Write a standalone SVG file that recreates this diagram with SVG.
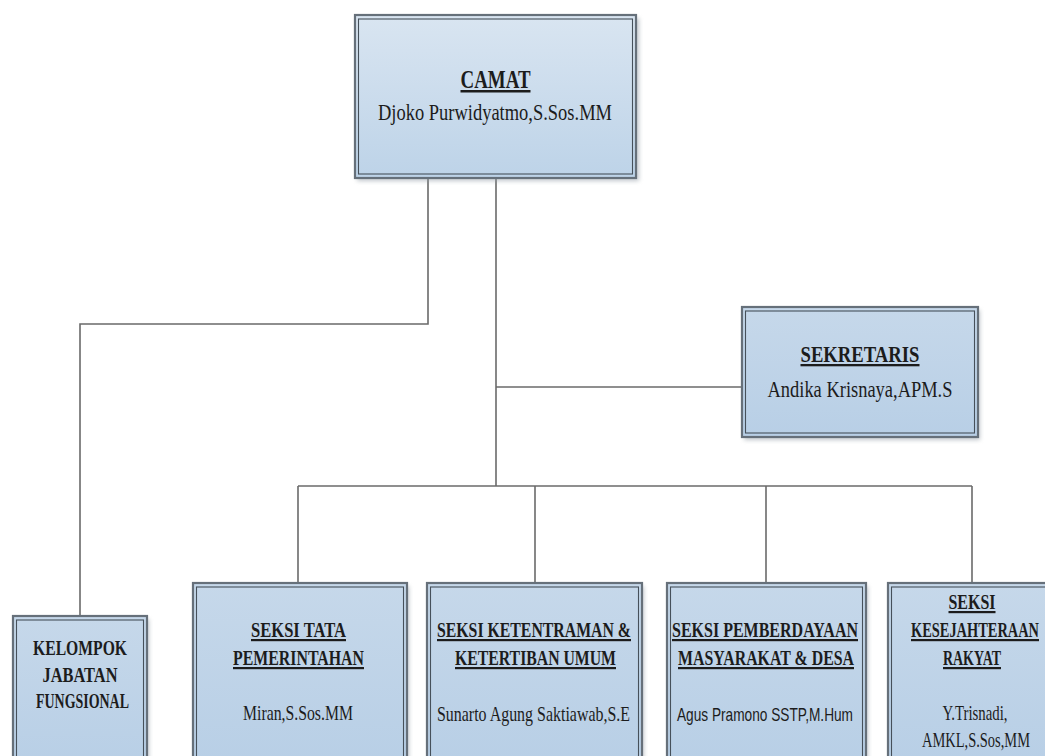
<svg xmlns="http://www.w3.org/2000/svg" width="1045" height="756" viewBox="0 0 1045 756">
<defs>
<linearGradient id="g" x1="0" y1="0" x2="0" y2="1">
<stop offset="0" stop-color="#d9e5f1"/>
<stop offset="1" stop-color="#bdd3e8"/>
</linearGradient>
<linearGradient id="g2" x1="0" y1="0" x2="0" y2="1">
<stop offset="0" stop-color="#c6d8ea"/>
<stop offset="1" stop-color="#b8cfe6"/>
</linearGradient>
<filter id="sh" x="-10%" y="-10%" width="130%" height="130%">
<feGaussianBlur stdDeviation="2"/>
</filter>
</defs>
<style>
.out{stroke:#66707a;stroke-width:2.2}
.in{fill:none;stroke:#46505a;stroke-width:1.1}
.shd{fill:#8f99a3;opacity:0.55;filter:url(#sh)}
.con{fill:none;stroke:#6a6a6a;stroke-width:1.6}
text{font-family:"Liberation Serif","Times New Roman",serif;fill:#1c1c1c;text-anchor:middle}
.b{font-weight:bold}
.u{text-decoration:underline}
.sans{font-family:"Liberation Sans",Arial,sans-serif}
</style>
<rect width="1045" height="756" fill="#ffffff"/>

<g id="connectors">
<polyline class="con" points="428,178 428,324 80,324 80,616"/>
<polyline class="con" points="496,178 496,486"/>
<polyline class="con" points="496,387 742,387"/>
<polyline class="con" points="298,486 972,486"/>
<polyline class="con" points="298,486 298,583"/>
<polyline class="con" points="535,486 535,583"/>
<polyline class="con" points="766,486 766,583"/>
<polyline class="con" points="972,486 972,583"/>
</g>

<g id="camat">
<rect class="shd" x="357" y="18" width="282" height="163"/>
<rect class="out" x="355" y="15" width="281" height="163" fill="url(#g)"/>
<rect class="in" x="358.5" y="19" width="274" height="155"/>
<text class="b u" x="495.5" y="88" font-size="25" textLength="70" lengthAdjust="spacingAndGlyphs">CAMAT</text>
<text x="495" y="120" font-size="23" textLength="234" lengthAdjust="spacingAndGlyphs">Djoko Purwidyatmo,S.Sos.MM</text>
</g>

<g id="sekretaris">
<rect class="shd" x="744" y="310" width="236" height="130"/>
<rect class="out" x="742" y="307" width="236" height="130" fill="url(#g2)"/>
<rect class="in" x="745.5" y="311" width="229" height="122"/>
<text class="b u" x="860" y="362" font-size="23" textLength="119" lengthAdjust="spacingAndGlyphs">SEKRETARIS</text>
<text x="860" y="397" font-size="23" textLength="185" lengthAdjust="spacingAndGlyphs">Andika Krisnaya,APM.S</text>
</g>

<g id="kelompok">
<rect class="shd" x="15" y="619" width="134" height="150"/>
<rect class="out" x="13" y="616" width="134" height="150" fill="url(#g2)"/>
<rect class="in" x="16.5" y="620" width="127" height="150"/>
<text class="b" x="80" y="655" font-size="21" textLength="94" lengthAdjust="spacingAndGlyphs">KELOMPOK</text>
<text class="b" x="80" y="682" font-size="21" textLength="75" lengthAdjust="spacingAndGlyphs">JABATAN</text>
<text class="b" x="82.5" y="708" font-size="21" textLength="93" lengthAdjust="spacingAndGlyphs">FUNGSIONAL</text>
</g>

<g id="seksi-tata">
<rect class="shd" x="195" y="586" width="214" height="180"/>
<rect class="out" x="193" y="583" width="214" height="180" fill="url(#g2)"/>
<rect class="in" x="196.5" y="587" width="207" height="180"/>
<text class="b u" x="298.5" y="637" font-size="22" textLength="95" lengthAdjust="spacingAndGlyphs">SEKSI TATA</text>
<text class="b u" x="298.5" y="665" font-size="22" textLength="131" lengthAdjust="spacingAndGlyphs">PEMERINTAHAN</text>
<text x="298" y="720" font-size="21" textLength="110" lengthAdjust="spacingAndGlyphs">Miran,S.Sos.MM</text>
</g>

<g id="seksi-ketentraman">
<rect class="shd" x="429" y="586" width="215" height="180"/>
<rect class="out" x="427" y="583" width="215" height="180" fill="url(#g2)"/>
<rect class="in" x="430.5" y="587" width="208" height="180"/>
<text class="b u" x="534" y="637" font-size="22" textLength="194" lengthAdjust="spacingAndGlyphs">SEKSI KETENTRAMAN &amp;</text>
<text class="b u" x="535.5" y="665" font-size="22" textLength="161" lengthAdjust="spacingAndGlyphs">KETERTIBAN UMUM</text>
<text x="533.5" y="721" font-size="21" textLength="193" lengthAdjust="spacingAndGlyphs">Sunarto Agung Saktiawab,S.E</text>
</g>

<g id="seksi-pemberdayaan">
<rect class="shd" x="669" y="586" width="199" height="180"/>
<rect class="out" x="667" y="583" width="199" height="180" fill="url(#g2)"/>
<rect class="in" x="670.5" y="587" width="192" height="180"/>
<text class="b u" x="765" y="637" font-size="22" textLength="186" lengthAdjust="spacingAndGlyphs">SEKSI PEMBERDAYAAN</text>
<text class="b u" x="766" y="665" font-size="22" textLength="176" lengthAdjust="spacingAndGlyphs">MASYARAKAT &amp; DESA</text>
<text class="sans" x="765" y="721" font-size="19" textLength="176" lengthAdjust="spacingAndGlyphs">Agus Pramono SSTP,M.Hum</text>
</g>

<g id="seksi-kesejahteraan">
<rect class="shd" x="890" y="586" width="170" height="180"/>
<rect class="out" x="888" y="583" width="170" height="180" fill="url(#g2)"/>
<rect class="in" x="891.5" y="587" width="163" height="180"/>
<text class="b u" x="972" y="609" font-size="22" textLength="47" lengthAdjust="spacingAndGlyphs">SEKSI</text>
<text class="b u" x="975" y="637" font-size="22" textLength="128" lengthAdjust="spacingAndGlyphs">KESEJAHTERAAN</text>
<text class="b u" x="972" y="665" font-size="22" textLength="58" lengthAdjust="spacingAndGlyphs">RAKYAT</text>
<text x="975" y="720" font-size="21" textLength="65" lengthAdjust="spacingAndGlyphs">Y.Trisnadi,</text>
<text x="976" y="747" font-size="21" textLength="108" lengthAdjust="spacingAndGlyphs">AMKL,S.Sos,MM</text>
</g>
</svg>
